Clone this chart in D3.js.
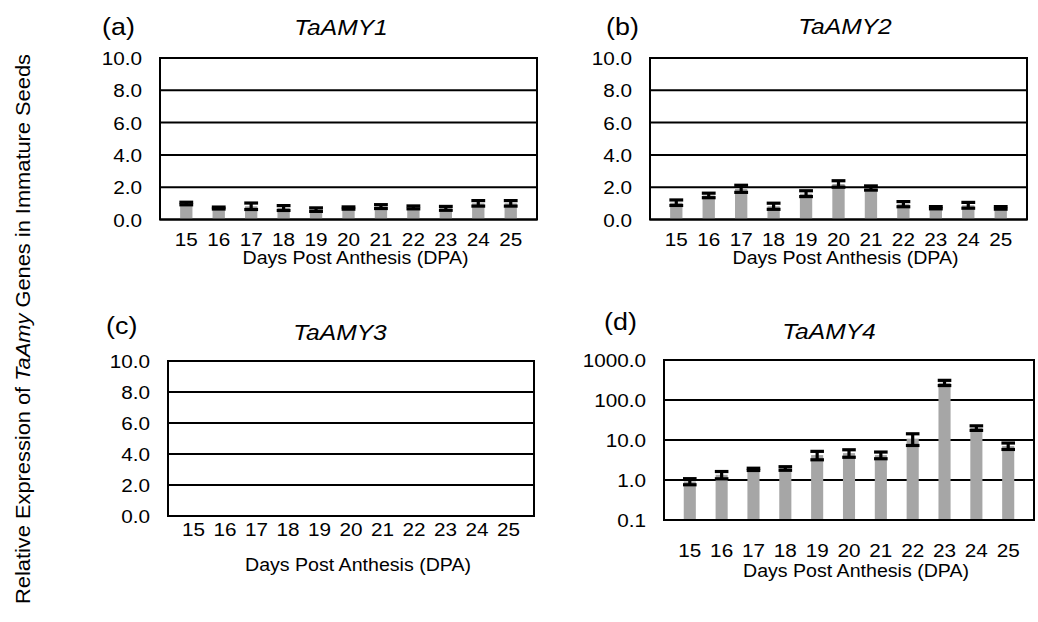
<!doctype html>
<html>
<head>
<meta charset="UTF-8">
<title>TaAMY expression</title>
<script src="https://d3js.org/d3.v7.min.js"></script>
<style>
	body { margin: 0; background: #fff; }
	svg text { font-family: 'Liberation Sans', Arial, sans-serif; fill: #000; }
</style>
</head>
<body>
<svg class="chart" width="1038" height="622"></svg>
<script>
// data
var days = ['15', '16', '17', '18', '19', '20', '21', '22', '23', '24', '25'];
var amy1Values = [0.99, 0.71, 0.82, 0.71, 0.61, 0.71, 0.80, 0.75, 0.69, 1.00, 1.00];
var amy1Errors = [0.08, 0.06, 0.20, 0.15, 0.11, 0.07, 0.12, 0.09, 0.12, 0.17, 0.17];
var amy2Values = [1.04, 1.49, 1.90, 0.82, 1.60, 2.20, 1.95, 0.95, 0.73, 0.88, 0.72];
var amy2Errors = [0.17, 0.14, 0.22, 0.19, 0.18, 0.20, 0.13, 0.16, 0.07, 0.18, 0.08];
var amy3Values = [];
var amy3Errors = [];
var amy4Values = [0.92, 1.35, 1.85, 1.95, 4.2, 4.7, 4.2, 10.8, 270, 20, 7.1];
var amy4Errors = [0.16, 0.28, 0.12, 0.20, 1.0, 1.0, 0.8, 3.5, 40, 2.6, 1.3];
var linearTicks = [0, 2, 4, 6, 8, 10];
var logTicks = [0.1, 1, 10, 100, 1000];

var sx = 1.12; // the source figure is slightly stretched sideways

var panels = [
	{tag: '(a)', gene: 'TaAMY1', values: amy1Values, errors: amy1Errors, log: false,
		left: 160, right: 537, top: 58, bottom: 219.5, tickY: 239, labelY: 258, tagX: 102, tagY: 27, titleX: 341, titleY: 27},
	{tag: '(b)', gene: 'TaAMY2', values: amy2Values, errors: amy2Errors, log: false,
		left: 650, right: 1027, top: 58, bottom: 219.5, tickY: 239, labelY: 258, tagX: 606, tagY: 27, titleX: 845, titleY: 26},
	{tag: '(c)', gene: 'TaAMY3', values: amy3Values, errors: amy3Errors, log: false,
		left: 168, right: 534, top: 361, bottom: 516, tickY: 529, labelY: 565, tagX: 106, tagY: 326, titleX: 340, titleY: 332},
	{tag: '(d)', gene: 'TaAMY4', values: amy4Values, errors: amy4Errors, log: true,
		left: 664, right: 1034, top: 360, bottom: 520, tickY: 550, labelY: 571, tagX: 604, tagY: 322, titleX: 829, titleY: 331}
];

var chart = d3.select('.chart');

function label(sel, x, y, str, size, anchor) {
	return sel.append('text')
		.attr('transform', 'translate(' + x + ',' + y + ') scale(' + sx + ',1)')
		.attr('text-anchor', anchor || 'middle')
		.attr('dominant-baseline', 'central')
		.style('font-size', size + 'px')
		.text(str);
}

panels.forEach(function(p) {
	var g = chart.append('g');
	var w = p.right - p.left;
	var x = d3.scaleBand().domain(days).range([p.left, p.right]).padding(0.62);
	var y = p.log ?
		d3.scaleLog().domain([0.1, 1000]).range([p.bottom, p.top]) :
		d3.scaleLinear().domain([0, 10]).range([p.bottom, p.top]);
	var ticks = p.log ? logTicks : linearTicks;

	// gridlines
	g.selectAll('.grid')
		.data(ticks)
		.enter().append('line')
		.attr('x1', p.left).attr('x2', p.right)
		.attr('y1', function(d) { return y(d); })
		.attr('y2', function(d) { return y(d); })
		.attr('stroke', '#000').attr('stroke-width', 2);

	// bars
	g.selectAll('.bar')
		.data(p.values)
		.enter().append('rect')
		.attr('x', function(d, i) { return x(days[i]); })
		.attr('width', x.bandwidth())
		.attr('y', function(d) { return y(d); })
		.attr('height', function(d) { return y.range()[0] - y(d); })
		.attr('fill', '#a6a6a6');

	// error bars
	var eb = g.selectAll('.err')
		.data(p.values)
		.enter().append('g')
		.attr('stroke', '#000').attr('stroke-width', 3.2);
	var cap = x.bandwidth() + 1.5;
	eb.append('line')
		.attr('x1', function(d, i) { return x(days[i]) + x.bandwidth() / 2; })
		.attr('x2', function(d, i) { return x(days[i]) + x.bandwidth() / 2; })
		.attr('y1', function(d, i) { return y(d + p.errors[i]); })
		.attr('y2', function(d, i) { return y(d - p.errors[i]); });
	[1, -1].forEach(function(s) {
		eb.append('line')
			.attr('x1', function(d, i) { return x(days[i]) + x.bandwidth() / 2 - cap / 2; })
			.attr('x2', function(d, i) { return x(days[i]) + x.bandwidth() / 2 + cap / 2; })
			.attr('y1', function(d, i) { return y(d + s * p.errors[i]); })
			.attr('y2', function(d, i) { return y(d + s * p.errors[i]); });
	});

	// frame
	g.append('rect')
		.attr('x', p.left).attr('y', p.top)
		.attr('width', w).attr('height', p.bottom - p.top)
		.attr('fill', 'none').attr('stroke', '#000').attr('stroke-width', 2);

	// y axis labels
	var yAxis = g.append('g')
		.attr('transform', 'translate(' + p.left + ',0)')
		.call(d3.axisLeft(y).tickValues(ticks).tickSize(0).tickFormat(d3.format('.1f')));
	yAxis.select('.domain').remove();
	yAxis.selectAll('text')
		.attr('x', null).attr('dy', null)
		.attr('transform', 'translate(-18,0) scale(' + sx + ',1)')
		.attr('dominant-baseline', 'central')
		.style('font-size', '18.5px')
		.style('font-family', null);

	// x axis labels
	var xAxis = g.append('g')
		.attr('transform', 'translate(0,' + p.tickY + ')')
		.call(d3.axisBottom(x).tickSize(0));
	xAxis.select('.domain').remove();
	xAxis.selectAll('text')
		.attr('y', null).attr('dy', null)
		.attr('transform', 'scale(' + sx + ',1)')
		.attr('dominant-baseline', 'central')
		.style('font-size', '18.5px')
		.style('font-family', null);

	label(g, (p.left + p.right) / 2 + 7, p.labelY, 'Days Post Anthesis (DPA)', 17.5);
	label(g, p.tagX, p.tagY, p.tag, 24, 'start');
	label(g, p.titleX, p.titleY, p.gene, 22).style('font-style', 'italic');
});

// shared y-axis title
var yt = chart.append('text')
	.attr('transform', 'translate(22,329) rotate(-90) scale(' + sx + ',1)')
	.attr('text-anchor', 'middle')
	.attr('dominant-baseline', 'central')
	.style('font-size', '19.5px');
yt.append('tspan').text('Relative Expression of ');
yt.append('tspan').style('font-style', 'italic').text('TaAmy');
yt.append('tspan').text(' Genes in Immature Seeds');
</script>
</body>
</html>
